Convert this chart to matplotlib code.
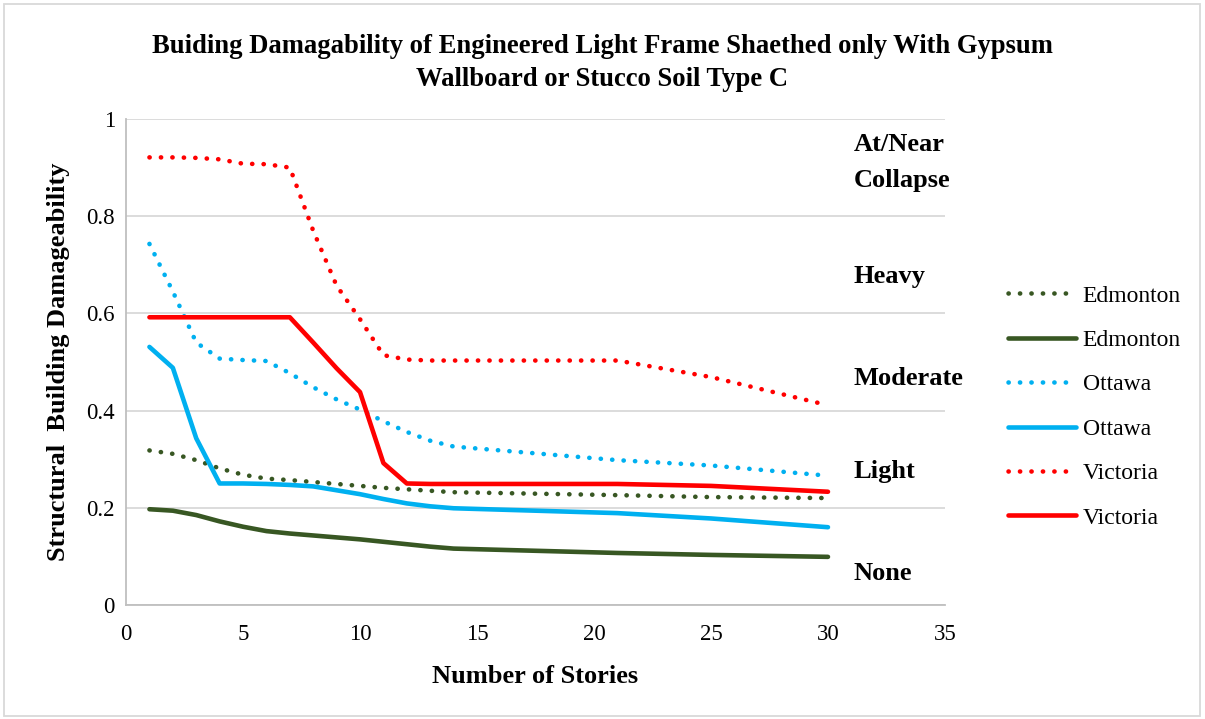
import matplotlib
matplotlib.use("Agg")
import matplotlib.pyplot as plt
from matplotlib.patches import Rectangle

plt.rcParams['font.family'] = ['Liberation Serif', 'DejaVu Serif']

# Number of stories (x values shared by all series)
stories = [1, 2, 3, 4, 5, 6, 7, 8, 9, 10, 11, 12, 13, 14, 21, 25, 30]

edmonton_dot = [0.318, 0.311, 0.298, 0.281, 0.268, 0.260, 0.257, 0.253, 0.249, 0.245,
                0.241, 0.238, 0.235, 0.232, 0.226, 0.222, 0.220]
edmonton_sol = [0.197, 0.194, 0.185, 0.172, 0.161, 0.152, 0.147, 0.143, 0.139, 0.135,
                0.130, 0.125, 0.120, 0.116, 0.107, 0.103, 0.099]
ottawa_dot = [0.743, 0.645, 0.540, 0.507, 0.504, 0.502, 0.477, 0.448, 0.423, 0.402,
              0.378, 0.356, 0.338, 0.326, 0.298, 0.287, 0.266]
ottawa_sol = [0.531, 0.488, 0.343, 0.250, 0.250, 0.249, 0.247, 0.244, 0.236, 0.228,
              0.218, 0.209, 0.203, 0.199, 0.189, 0.178, 0.160]
victoria_dot = [0.921, 0.921, 0.920, 0.917, 0.908, 0.907, 0.900, 0.770, 0.657, 0.588,
                0.514, 0.505, 0.503, 0.503, 0.503, 0.469, 0.411]
victoria_sol = [0.592, 0.592, 0.592, 0.592, 0.592, 0.592, 0.592, 0.540, 0.487, 0.438,
                0.292, 0.250, 0.249, 0.249, 0.249, 0.245, 0.233]

damage_levels = ['At/Near\nCollapse', 'Heavy', 'Moderate', 'Light', 'None']
level_y = [0.91, 0.675, 0.467, 0.274, 0.064]

verde = '#385723'
azul = '#00B0F0'
rojo = '#FF0000'

fig = plt.figure(figsize=(12.05, 7.19), dpi=100)
ax = fig.add_axes([0.1046, 0.1586, 0.6796, 0.6759])

lw = 3.3
punteado = (0, (0.05, 2.45))

series = [
    (edmonton_dot, verde, punteado, 'Edmonton'),
    (edmonton_sol, verde, '-', 'Edmonton'),
    (ottawa_dot, azul, punteado, 'Ottawa'),
    (ottawa_sol, azul, '-', 'Ottawa'),
    (victoria_dot, rojo, punteado, 'Victoria'),
    (victoria_sol, rojo, '-', 'Victoria'),
]
for vals, col, ls, lab in series:
    ax.plot(stories, vals, color=col, linestyle=ls, linewidth=lw, label=lab,
            dash_capstyle='round', solid_capstyle='round', solid_joinstyle='round')

ax.set_xlim(0, 35)
ax.set_ylim(0, 1)
ax.set_xticks(range(0, 36, 5))
ax.set_yticks([0, 0.2, 0.4, 0.6, 0.8, 1])
ax.set_yticklabels(['0', '0.2', '0.4', '0.6', '0.8', '1'])
ax.tick_params(length=0, labelsize=16.5)
ax.tick_params(axis='x', pad=14)
ax.tick_params(axis='y', pad=8)
ax.grid(axis='y', color='#d9d9d9', linewidth=1.3)
ax.set_axisbelow(True)
for s in ['top', 'right']:
    ax.spines[s].set_visible(False)
for s in ['left', 'bottom']:
    ax.spines[s].set_color('#bfbfbf')
    ax.spines[s].set_linewidth(1.3)

ax.set_xlabel('Number of Stories', fontsize=19, fontweight='bold', labelpad=14)
ax.set_ylabel('Structural  Building Damageability', fontsize=19, fontweight='bold', labelpad=12)

# etiquetas de nivel de daño
for txt, yy in zip(damage_levels, level_y):
    ax.text(31.1, yy, txt, fontsize=19, fontweight='bold', va='center', ha='left',
            linespacing=1.7)

fig.suptitle('Buiding Damagability of Engineered Light Frame Shaethed only With Gypsum\n'
             'Wallboard or Stucco Soil Type C', fontsize=19.2, fontweight='bold',
             x=0.5, y=0.953, linespacing=1.45)

leg = ax.legend(loc='upper left', bbox_to_anchor=(0.827, 0.62), bbox_transform=fig.transFigure,
                frameon=False, fontsize=17, handlelength=2.85, handletextpad=0.3,
                labelspacing=0.97, borderpad=0)

fig.patches.append(Rectangle((0.003, 0.004), 0.993, 0.99, transform=fig.transFigure,
                             fill=False, edgecolor='#d9d9d9', linewidth=1.3))

plt.savefig('out.png', dpi=100)
